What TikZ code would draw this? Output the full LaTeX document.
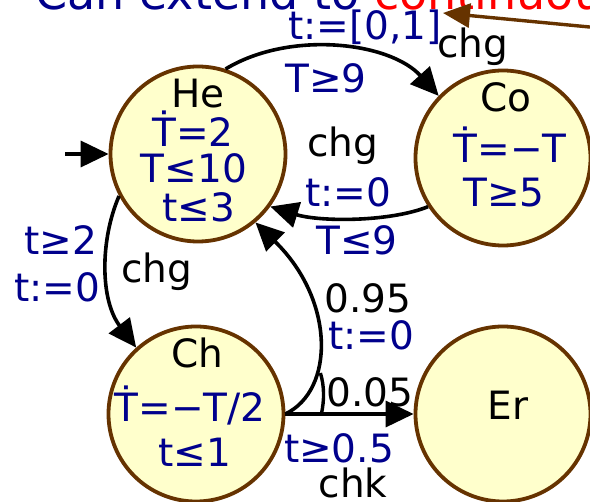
\documentclass[tikz,border=0pt]{standalone}
\usepackage{fontspec}
\setmainfont{DejaVu Sans}
\usetikzlibrary{arrows.meta}
\definecolor{nblue}{RGB}{0,0,140}
\definecolor{sbrown}{RGB}{102,51,0}
\definecolor{sfill}{RGB}{255,255,204}
\begin{document}
\begin{tikzpicture}[x=1pt,y=-1pt,
  state/.style={circle,draw=sbrown,fill=sfill,line width=3.8pt,minimum size=175pt,inner sep=0pt},
  edge/.style={line width=3.6pt,-{Triangle[length=28pt,width=26pt]}},
  bl/.style={text=nblue,font=\fontsize{39}{39}\selectfont,inner sep=0pt,anchor=base},
  kl/.style={text=black,font=\fontsize{39}{39}\selectfont,inner sep=0pt,anchor=base}]
\useasboundingbox (0,0) rectangle (590,502);
% title (cut off at the top)
\node[inner sep=0pt,anchor=base west,font=\fontsize{46}{46}\selectfont] (title) at (35,10)
  {\textcolor{nblue}{Can extend to }\textcolor{red}{continuous}};
% states
\node[state] (He) at (198,154) {};
\node[state] (Co) at (503,158) {};
\node[state] (Ch) at (196,414) {};
\node[state] (Er) at (503,414) {};
% state texts
\node[kl] (heN) at (198,108) {He};
\node[bl] (heA) at (193,147) {Ṫ=2};
\node[bl] (heB) at (194,183) {T≤10};
\node[bl] (heC) at (199,222) {t≤3};
\node[kl] (coN) at (506,112) {Co};
\node[bl] (coA) at (510,163) {Ṫ=−T};
\node[bl] (coB) at (504,207) {T≥5};
\node[kl] (chN) at (197,368) {Ch};
\node[bl] (chA) at (190,422) {Ṫ=−T/2};
\node[bl] (chB) at (195,467) {t≤1};
\node[kl] (erN) at (508,420) {Er};
% initial arrow
\coordinate (init) at (65,154);
\draw[edge] (init) -- (He.west);
% He -> Co
\draw[edge] (He.72) .. controls (290,30) and (390,42) .. (Co.136);
\node[bl] (l1) at (365,40) {t:=[0,1]};
\node[kl] (l2) at (473,58) {chg};
\node[bl] (l3) at (326,93) {T≥9};
% Co -> He
\draw[edge] (Co.213) .. controls (390,222) and (320,222) .. (He.324);
\node[kl] (l4) at (343,157) {chg};
\node[bl] (l5) at (348,207) {t:=0};
\node[bl] (l6) at (357,255) {T≤9};
% He -> Ch
\draw[edge] (He.208) .. controls (100,240) and (100,300) .. (Ch.132);
\node[bl] (l7) at (61,255) {t≥2};
\node[bl] (l8) at (57,302) {t:=0};
\node[kl] (l9) at (157,283) {chg};
% Ch -> He (0.95) and Ch -> Er (0.05)
\coordinate (br) at (Ch.east);
\draw[edge] (br) .. controls (335,390) and (335,300) .. (He.310);
\draw[edge] (br) -- (Er.west);
\draw[line width=3.4pt] ([xshift=36pt]br) .. controls ([xshift=39pt,yshift=14pt]br) and ([xshift=39pt,yshift=28pt]br) .. ([xshift=35pt,yshift=41pt]br);
\node[kl] (l10) at (368,313) {0.95};
\node[bl] (l11) at (371,350) {t:=0};
\node[kl] (l12) at (370,407) {0.05};
\node[bl] (l13) at (339,463) {t≥0.5};
\node[kl] (l14) at (353,498) {chk};
% brown pointer
\coordinate (pt) at (443,13);
\coordinate (pf) at (600,28);
\draw[sbrown,line width=3.4pt,-{Triangle[length=27pt,width=24pt]}] (pf) -- (pt);
\end{tikzpicture}
\end{document}
